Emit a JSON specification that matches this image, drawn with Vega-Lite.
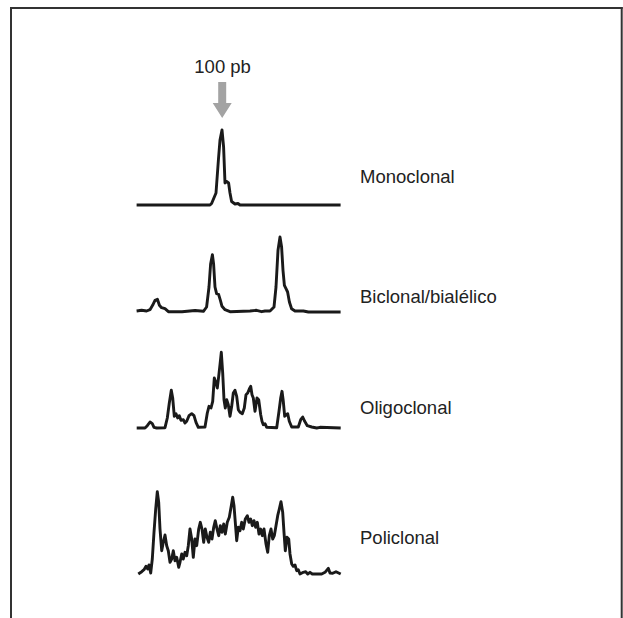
{
  "$schema": "https://vega.github.io/schema/vega-lite/v6.json",
  "width": 623,
  "height": 618,
  "autosize": "none",
  "padding": 0,
  "background": "white",
  "config": {"view": {"stroke": null}, "line": {"color": "#1a1a1a", "strokeWidth": 2.9, "strokeJoin": "round"}},
  "datasets": {
    "traces": [
      {"trace": "Monoclonal", "bp": 57.3, "signal": 0},
      {"trace": "Monoclonal", "bp": 94, "signal": 0},
      {"trace": "Monoclonal", "bp": 94.8, "signal": 1.5},
      {"trace": "Monoclonal", "bp": 97, "signal": 12},
      {"trace": "Monoclonal", "bp": 98.2, "signal": 45},
      {"trace": "Monoclonal", "bp": 99, "signal": 65},
      {"trace": "Monoclonal", "bp": 100, "signal": 75},
      {"trace": "Monoclonal", "bp": 100.8, "signal": 58},
      {"trace": "Monoclonal", "bp": 101.5, "signal": 22},
      {"trace": "Monoclonal", "bp": 102.3, "signal": 23.5},
      {"trace": "Monoclonal", "bp": 103.3, "signal": 22},
      {"trace": "Monoclonal", "bp": 104, "signal": 12},
      {"trace": "Monoclonal", "bp": 104.8, "signal": 3.5},
      {"trace": "Monoclonal", "bp": 106.5, "signal": 1},
      {"trace": "Monoclonal", "bp": 108, "signal": 1.5},
      {"trace": "Monoclonal", "bp": 109, "signal": 0},
      {"trace": "Monoclonal", "bp": 159.3, "signal": 0},

      {"trace": "Biclonal", "bp": 57.3, "signal": 1},
      {"trace": "Biclonal", "bp": 59.8, "signal": 1.7},
      {"trace": "Biclonal", "bp": 62.3, "signal": 1},
      {"trace": "Biclonal", "bp": 64, "signal": 2.3},
      {"trace": "Biclonal", "bp": 65.3, "signal": 6.7},
      {"trace": "Biclonal", "bp": 66.5, "signal": 11.7},
      {"trace": "Biclonal", "bp": 67.7, "signal": 12.7},
      {"trace": "Biclonal", "bp": 68.7, "signal": 6.7},
      {"trace": "Biclonal", "bp": 69.8, "signal": 4.3},
      {"trace": "Biclonal", "bp": 71.5, "signal": 3.3},
      {"trace": "Biclonal", "bp": 73.2, "signal": 0.3},
      {"trace": "Biclonal", "bp": 80, "signal": 0.3},
      {"trace": "Biclonal", "bp": 86.5, "signal": 1.5},
      {"trace": "Biclonal", "bp": 90.7, "signal": 0.7},
      {"trace": "Biclonal", "bp": 92.3, "signal": 5},
      {"trace": "Biclonal", "bp": 93.5, "signal": 25},
      {"trace": "Biclonal", "bp": 94.3, "signal": 48},
      {"trace": "Biclonal", "bp": 95.2, "signal": 57.3},
      {"trace": "Biclonal", "bp": 95.8, "signal": 48},
      {"trace": "Biclonal", "bp": 96.5, "signal": 25},
      {"trace": "Biclonal", "bp": 97.3, "signal": 18.3},
      {"trace": "Biclonal", "bp": 98.3, "signal": 17.7},
      {"trace": "Biclonal", "bp": 99.2, "signal": 11.7},
      {"trace": "Biclonal", "bp": 100, "signal": 5.7},
      {"trace": "Biclonal", "bp": 101.5, "signal": 2.3},
      {"trace": "Biclonal", "bp": 104, "signal": 0.3},
      {"trace": "Biclonal", "bp": 114, "signal": 1},
      {"trace": "Biclonal", "bp": 117.3, "signal": 1.7},
      {"trace": "Biclonal", "bp": 119.8, "signal": 0.3},
      {"trace": "Biclonal", "bp": 121.5, "signal": 1},
      {"trace": "Biclonal", "bp": 124, "signal": 1},
      {"trace": "Biclonal", "bp": 126, "signal": 5},
      {"trace": "Biclonal", "bp": 127, "signal": 25},
      {"trace": "Biclonal", "bp": 128, "signal": 61.7},
      {"trace": "Biclonal", "bp": 129, "signal": 75},
      {"trace": "Biclonal", "bp": 129.8, "signal": 65},
      {"trace": "Biclonal", "bp": 130.5, "signal": 41.7},
      {"trace": "Biclonal", "bp": 131.2, "signal": 26.7},
      {"trace": "Biclonal", "bp": 132, "signal": 23.3},
      {"trace": "Biclonal", "bp": 132.8, "signal": 20},
      {"trace": "Biclonal", "bp": 133.7, "signal": 10},
      {"trace": "Biclonal", "bp": 134.8, "signal": 3.3},
      {"trace": "Biclonal", "bp": 136.5, "signal": 1},
      {"trace": "Biclonal", "bp": 140.7, "signal": 1},
      {"trace": "Biclonal", "bp": 143.2, "signal": 0},
      {"trace": "Biclonal", "bp": 159.3, "signal": 0},

      {"trace": "Oligoclonal", "bp": 57.35, "signal": 0},
      {"trace": "Oligoclonal", "bp": 61.5, "signal": 0},
      {"trace": "Oligoclonal", "bp": 62.65, "signal": 2.3},
      {"trace": "Oligoclonal", "bp": 64, "signal": 6},
      {"trace": "Oligoclonal", "bp": 65.15, "signal": 4.3},
      {"trace": "Oligoclonal", "bp": 66, "signal": 0.7},
      {"trace": "Oligoclonal", "bp": 67.35, "signal": 0},
      {"trace": "Oligoclonal", "bp": 71.5, "signal": 0.3},
      {"trace": "Oligoclonal", "bp": 72.65, "signal": 10},
      {"trace": "Oligoclonal", "bp": 73.65, "signal": 25},
      {"trace": "Oligoclonal", "bp": 74.65, "signal": 37.7},
      {"trace": "Oligoclonal", "bp": 75.35, "signal": 30},
      {"trace": "Oligoclonal", "bp": 76.15, "signal": 11.7},
      {"trace": "Oligoclonal", "bp": 77, "signal": 14.3},
      {"trace": "Oligoclonal", "bp": 77.85, "signal": 10},
      {"trace": "Oligoclonal", "bp": 78.65, "signal": 12.3},
      {"trace": "Oligoclonal", "bp": 79.5, "signal": 7.7},
      {"trace": "Oligoclonal", "bp": 80.65, "signal": 8.3},
      {"trace": "Oligoclonal", "bp": 81.5, "signal": 5},
      {"trace": "Oligoclonal", "bp": 82.35, "signal": 6.7},
      {"trace": "Oligoclonal", "bp": 83.5, "signal": 12.3},
      {"trace": "Oligoclonal", "bp": 84.85, "signal": 14.3},
      {"trace": "Oligoclonal", "bp": 86, "signal": 12.3},
      {"trace": "Oligoclonal", "bp": 87, "signal": 5.7},
      {"trace": "Oligoclonal", "bp": 88.15, "signal": 0.7},
      {"trace": "Oligoclonal", "bp": 91.5, "signal": 1},
      {"trace": "Oligoclonal", "bp": 92.65, "signal": 15},
      {"trace": "Oligoclonal", "bp": 93.5, "signal": 21.7},
      {"trace": "Oligoclonal", "bp": 94.5, "signal": 20},
      {"trace": "Oligoclonal", "bp": 95.35, "signal": 26.7},
      {"trace": "Oligoclonal", "bp": 96.15, "signal": 50},
      {"trace": "Oligoclonal", "bp": 97, "signal": 45},
      {"trace": "Oligoclonal", "bp": 97.65, "signal": 40},
      {"trace": "Oligoclonal", "bp": 98.35, "signal": 51.7},
      {"trace": "Oligoclonal", "bp": 99, "signal": 63.3},
      {"trace": "Oligoclonal", "bp": 99.65, "signal": 75.7},
      {"trace": "Oligoclonal", "bp": 100.35, "signal": 55},
      {"trace": "Oligoclonal", "bp": 101, "signal": 28.3},
      {"trace": "Oligoclonal", "bp": 101.65, "signal": 20},
      {"trace": "Oligoclonal", "bp": 102.35, "signal": 28.3},
      {"trace": "Oligoclonal", "bp": 103.15, "signal": 23.3},
      {"trace": "Oligoclonal", "bp": 104, "signal": 11.7},
      {"trace": "Oligoclonal", "bp": 104.85, "signal": 21.7},
      {"trace": "Oligoclonal", "bp": 105.65, "signal": 35},
      {"trace": "Oligoclonal", "bp": 106.5, "signal": 37.7},
      {"trace": "Oligoclonal", "bp": 107.35, "signal": 31.7},
      {"trace": "Oligoclonal", "bp": 108.15, "signal": 18.3},
      {"trace": "Oligoclonal", "bp": 109, "signal": 15.7},
      {"trace": "Oligoclonal", "bp": 110.15, "signal": 14.3},
      {"trace": "Oligoclonal", "bp": 111.15, "signal": 20},
      {"trace": "Oligoclonal", "bp": 112, "signal": 33.3},
      {"trace": "Oligoclonal", "bp": 112.85, "signal": 35},
      {"trace": "Oligoclonal", "bp": 113.65, "signal": 39},
      {"trace": "Oligoclonal", "bp": 114.35, "signal": 41.7},
      {"trace": "Oligoclonal", "bp": 115, "signal": 33.3},
      {"trace": "Oligoclonal", "bp": 115.65, "signal": 30},
      {"trace": "Oligoclonal", "bp": 116.5, "signal": 16.7},
      {"trace": "Oligoclonal", "bp": 117.5, "signal": 30},
      {"trace": "Oligoclonal", "bp": 118.35, "signal": 28.3},
      {"trace": "Oligoclonal", "bp": 119.35, "signal": 13.3},
      {"trace": "Oligoclonal", "bp": 120, "signal": 6.7},
      {"trace": "Oligoclonal", "bp": 120.65, "signal": 3.3},
      {"trace": "Oligoclonal", "bp": 121.5, "signal": 4.3},
      {"trace": "Oligoclonal", "bp": 122.35, "signal": 0.7},
      {"trace": "Oligoclonal", "bp": 127.35, "signal": 0.3},
      {"trace": "Oligoclonal", "bp": 128.5, "signal": 16.7},
      {"trace": "Oligoclonal", "bp": 129.35, "signal": 30},
      {"trace": "Oligoclonal", "bp": 130, "signal": 36.7},
      {"trace": "Oligoclonal", "bp": 130.65, "signal": 26.7},
      {"trace": "Oligoclonal", "bp": 131.35, "signal": 11.7},
      {"trace": "Oligoclonal", "bp": 132.15, "signal": 13.3},
      {"trace": "Oligoclonal", "bp": 132.85, "signal": 14.3},
      {"trace": "Oligoclonal", "bp": 133.65, "signal": 6.7},
      {"trace": "Oligoclonal", "bp": 134.85, "signal": 1},
      {"trace": "Oligoclonal", "bp": 138.15, "signal": 1},
      {"trace": "Oligoclonal", "bp": 139.35, "signal": 8.3},
      {"trace": "Oligoclonal", "bp": 140.35, "signal": 11},
      {"trace": "Oligoclonal", "bp": 141.35, "signal": 6.7},
      {"trace": "Oligoclonal", "bp": 142.65, "signal": 2.3},
      {"trace": "Oligoclonal", "bp": 144.85, "signal": 1},
      {"trace": "Oligoclonal", "bp": 147.35, "signal": 0},
      {"trace": "Oligoclonal", "bp": 149, "signal": 0.7},
      {"trace": "Oligoclonal", "bp": 159.35, "signal": 0},

      {"trace": "Policlonal", "bp": 58.15, "signal": 0},
      {"trace": "Policlonal", "bp": 59.85, "signal": 2.3},
      {"trace": "Policlonal", "bp": 61, "signal": 4.3},
      {"trace": "Policlonal", "bp": 62, "signal": 7.7},
      {"trace": "Policlonal", "bp": 62.85, "signal": 5},
      {"trace": "Policlonal", "bp": 63.5, "signal": 9},
      {"trace": "Policlonal", "bp": 64.35, "signal": 1},
      {"trace": "Policlonal", "bp": 65.15, "signal": 15},
      {"trace": "Policlonal", "bp": 66, "signal": 41.7},
      {"trace": "Policlonal", "bp": 66.85, "signal": 65},
      {"trace": "Policlonal", "bp": 67.65, "signal": 82.3},
      {"trace": "Policlonal", "bp": 68.35, "signal": 71.7},
      {"trace": "Policlonal", "bp": 69, "signal": 45},
      {"trace": "Policlonal", "bp": 69.85, "signal": 23.3},
      {"trace": "Policlonal", "bp": 70.65, "signal": 31.7},
      {"trace": "Policlonal", "bp": 71.5, "signal": 39},
      {"trace": "Policlonal", "bp": 72.35, "signal": 28.3},
      {"trace": "Policlonal", "bp": 73.15, "signal": 23.3},
      {"trace": "Policlonal", "bp": 74, "signal": 11.7},
      {"trace": "Policlonal", "bp": 74.85, "signal": 15},
      {"trace": "Policlonal", "bp": 75.65, "signal": 23.3},
      {"trace": "Policlonal", "bp": 76.5, "signal": 13.3},
      {"trace": "Policlonal", "bp": 77.35, "signal": 16.7},
      {"trace": "Policlonal", "bp": 78.35, "signal": 6.7},
      {"trace": "Policlonal", "bp": 79, "signal": 11.7},
      {"trace": "Policlonal", "bp": 79.85, "signal": 20},
      {"trace": "Policlonal", "bp": 80.65, "signal": 15},
      {"trace": "Policlonal", "bp": 81.5, "signal": 21.7},
      {"trace": "Policlonal", "bp": 82.35, "signal": 18.3},
      {"trace": "Policlonal", "bp": 83.15, "signal": 28.3},
      {"trace": "Policlonal", "bp": 84, "signal": 45},
      {"trace": "Policlonal", "bp": 84.85, "signal": 35},
      {"trace": "Policlonal", "bp": 85.65, "signal": 16.7},
      {"trace": "Policlonal", "bp": 86.5, "signal": 35},
      {"trace": "Policlonal", "bp": 87.35, "signal": 28.3},
      {"trace": "Policlonal", "bp": 88.35, "signal": 45},
      {"trace": "Policlonal", "bp": 89.15, "signal": 51.7},
      {"trace": "Policlonal", "bp": 90, "signal": 45},
      {"trace": "Policlonal", "bp": 90.85, "signal": 31.7},
      {"trace": "Policlonal", "bp": 91.65, "signal": 45},
      {"trace": "Policlonal", "bp": 92.5, "signal": 36.7},
      {"trace": "Policlonal", "bp": 93.35, "signal": 31.7},
      {"trace": "Policlonal", "bp": 94.15, "signal": 41.7},
      {"trace": "Policlonal", "bp": 95, "signal": 35},
      {"trace": "Policlonal", "bp": 95.85, "signal": 46.7},
      {"trace": "Policlonal", "bp": 96.65, "signal": 53.3},
      {"trace": "Policlonal", "bp": 97.5, "signal": 45},
      {"trace": "Policlonal", "bp": 98.35, "signal": 38.3},
      {"trace": "Policlonal", "bp": 99.15, "signal": 48.3},
      {"trace": "Policlonal", "bp": 100, "signal": 41.7},
      {"trace": "Policlonal", "bp": 100.85, "signal": 50},
      {"trace": "Policlonal", "bp": 101.65, "signal": 40},
      {"trace": "Policlonal", "bp": 102.65, "signal": 51.7},
      {"trace": "Policlonal", "bp": 103.65, "signal": 56.7},
      {"trace": "Policlonal", "bp": 104.65, "signal": 68.3},
      {"trace": "Policlonal", "bp": 105.35, "signal": 76.7},
      {"trace": "Policlonal", "bp": 106, "signal": 68.3},
      {"trace": "Policlonal", "bp": 106.65, "signal": 51.7},
      {"trace": "Policlonal", "bp": 107.35, "signal": 33.3},
      {"trace": "Policlonal", "bp": 108.15, "signal": 46.7},
      {"trace": "Policlonal", "bp": 109, "signal": 43.3},
      {"trace": "Policlonal", "bp": 109.85, "signal": 51.7},
      {"trace": "Policlonal", "bp": 110.65, "signal": 45},
      {"trace": "Policlonal", "bp": 111.65, "signal": 55},
      {"trace": "Policlonal", "bp": 112.65, "signal": 58.3},
      {"trace": "Policlonal", "bp": 113.5, "signal": 51.7},
      {"trace": "Policlonal", "bp": 114.35, "signal": 55},
      {"trace": "Policlonal", "bp": 115.15, "signal": 48.3},
      {"trace": "Policlonal", "bp": 116, "signal": 53.3},
      {"trace": "Policlonal", "bp": 116.85, "signal": 46.7},
      {"trace": "Policlonal", "bp": 117.65, "signal": 51.7},
      {"trace": "Policlonal", "bp": 118.5, "signal": 40},
      {"trace": "Policlonal", "bp": 119.35, "signal": 45},
      {"trace": "Policlonal", "bp": 120.15, "signal": 38.3},
      {"trace": "Policlonal", "bp": 121, "signal": 45},
      {"trace": "Policlonal", "bp": 122, "signal": 30},
      {"trace": "Policlonal", "bp": 122.85, "signal": 21.7},
      {"trace": "Policlonal", "bp": 123.65, "signal": 38.3},
      {"trace": "Policlonal", "bp": 124.5, "signal": 45},
      {"trace": "Policlonal", "bp": 125.35, "signal": 35},
      {"trace": "Policlonal", "bp": 126.15, "signal": 38.3},
      {"trace": "Policlonal", "bp": 127, "signal": 48.3},
      {"trace": "Policlonal", "bp": 127.85, "signal": 58.3},
      {"trace": "Policlonal", "bp": 128.65, "signal": 65},
      {"trace": "Policlonal", "bp": 129.5, "signal": 72.3},
      {"trace": "Policlonal", "bp": 130.35, "signal": 61.7},
      {"trace": "Policlonal", "bp": 131, "signal": 41.7},
      {"trace": "Policlonal", "bp": 131.65, "signal": 23.3},
      {"trace": "Policlonal", "bp": 132.5, "signal": 36.7},
      {"trace": "Policlonal", "bp": 133.35, "signal": 35},
      {"trace": "Policlonal", "bp": 134, "signal": 20},
      {"trace": "Policlonal", "bp": 134.85, "signal": 10},
      {"trace": "Policlonal", "bp": 135.65, "signal": 7.7},
      {"trace": "Policlonal", "bp": 136.5, "signal": 9},
      {"trace": "Policlonal", "bp": 137.35, "signal": 3.3},
      {"trace": "Policlonal", "bp": 138.15, "signal": 4.3},
      {"trace": "Policlonal", "bp": 139, "signal": 0},
      {"trace": "Policlonal", "bp": 140.65, "signal": 1.7},
      {"trace": "Policlonal", "bp": 141.85, "signal": 2.3},
      {"trace": "Policlonal", "bp": 142.85, "signal": 0},
      {"trace": "Policlonal", "bp": 144, "signal": 1.7},
      {"trace": "Policlonal", "bp": 145.15, "signal": 0},
      {"trace": "Policlonal", "bp": 149.85, "signal": 0},
      {"trace": "Policlonal", "bp": 151.5, "signal": 1.7},
      {"trace": "Policlonal", "bp": 153.15, "signal": 5.7},
      {"trace": "Policlonal", "bp": 154, "signal": 1},
      {"trace": "Policlonal", "bp": 155.35, "signal": 0.7},
      {"trace": "Policlonal", "bp": 157, "signal": 2.3},
      {"trace": "Policlonal", "bp": 159.35, "signal": 0}
    ]
  },
  "layer": [
    {
      "layer": [
        {
          "data": {"name": "traces"},
          "transform": [{"filter": "datum.trace === 'Monoclonal'"}],
          "mark": {"type": "line"},
          "encoding": {
            "x": {"field": "bp", "type": "quantitative", "scale": {"domain": [-11, 300.5], "nice": false, "zero": false}, "axis": null},
            "y": {"field": "signal", "type": "quantitative", "scale": {"domain": [-413, 205], "nice": false, "zero": false}, "axis": null}
          }
        },
        {
          "data": {"values": [{"label": "Monoclonal"}]},
          "mark": {"type": "text", "align": "left", "baseline": "alphabetic", "font": "Liberation Sans", "fontSize": 18.5, "color": "#222222"},
          "encoding": {
            "x": {"datum": 169, "type": "quantitative"},
            "y": {"datum": 22.5, "type": "quantitative"},
            "text": {"field": "label"}
          }
        },
        {
          "data": {"values": [{"label": "100 pb"}]},
          "mark": {"type": "text", "align": "center", "baseline": "alphabetic", "font": "Liberation Sans", "fontSize": 18.5, "color": "#222222"},
          "encoding": {
            "x": {"datum": 100.3, "type": "quantitative"},
            "y": {"datum": 132, "type": "quantitative"},
            "text": {"field": "label"}
          }
        },
        {
          "data": {"values": [{"label": "arrow"}]},
          "mark": {"type": "point", "shape": "M-0.222,-1L0.222,-1L0.222,0.167L0.528,0.167L0,1L-0.528,0.167L-0.222,0.167Z", "size": 1296, "filled": true, "color": "#a3a3a3", "opacity": 1, "strokeWidth": 0},
          "encoding": {
            "x": {"datum": 100.1, "type": "quantitative"},
            "y": {"datum": 105, "type": "quantitative"}
          }
        },
        {
          "data": {"values": [{"label": "left"}]},
          "mark": {"type": "rule", "color": "#333333", "strokeWidth": 2, "strokeCap": "square"},
          "encoding": {
            "x": {"datum": -5.5, "type": "quantitative"},
            "y": {"datum": 197, "type": "quantitative"},
            "y2": {"datum": -420}
          }
        },
        {
          "data": {"values": [{"label": "right"}]},
          "mark": {"type": "rule", "color": "#333333", "strokeWidth": 2, "strokeCap": "square"},
          "encoding": {
            "x": {"datum": 299.85, "type": "quantitative"},
            "y": {"datum": 197, "type": "quantitative"},
            "y2": {"datum": -420}
          }
        },
        {
          "data": {"values": [{"label": "top"}]},
          "mark": {"type": "rule", "color": "#333333", "strokeWidth": 2, "strokeCap": "square"},
          "encoding": {
            "x": {"datum": -5.5, "type": "quantitative"},
            "x2": {"datum": 299.85},
            "y": {"datum": 197, "type": "quantitative"}
          }
        }
      ]
    },
    {
      "layer": [
        {
          "data": {"name": "traces"},
          "transform": [{"filter": "datum.trace === 'Biclonal'"}],
          "mark": {"type": "line"},
          "encoding": {
            "x": {"field": "bp", "type": "quantitative", "scale": {"domain": [-11, 300.5], "nice": false, "zero": false}, "axis": null},
            "y": {"field": "signal", "type": "quantitative", "scale": {"domain": [-306, 312], "nice": false, "zero": false}, "axis": null}
          }
        },
        {
          "data": {"values": [{"label": "Biclonal/bialélico"}]},
          "mark": {"type": "text", "align": "left", "baseline": "alphabetic", "font": "Liberation Sans", "fontSize": 18.5, "color": "#222222"},
          "encoding": {
            "x": {"datum": 169, "type": "quantitative"},
            "y": {"datum": 9.3, "type": "quantitative"},
            "text": {"field": "label"}
          }
        }
      ]
    },
    {
      "layer": [
        {
          "data": {"name": "traces"},
          "transform": [{"filter": "datum.trace === 'Oligoclonal'"}],
          "mark": {"type": "line"},
          "encoding": {
            "x": {"field": "bp", "type": "quantitative", "scale": {"domain": [-11, 300.5], "nice": false, "zero": false}, "axis": null},
            "y": {"field": "signal", "type": "quantitative", "scale": {"domain": [-190, 428], "nice": false, "zero": false}, "axis": null}
          }
        },
        {
          "data": {"values": [{"label": "Oligoclonal"}]},
          "mark": {"type": "text", "align": "left", "baseline": "alphabetic", "font": "Liberation Sans", "fontSize": 18.5, "color": "#222222"},
          "encoding": {
            "x": {"datum": 169, "type": "quantitative"},
            "y": {"datum": 14.5, "type": "quantitative"},
            "text": {"field": "label"}
          }
        }
      ]
    },
    {
      "layer": [
        {
          "data": {"name": "traces"},
          "transform": [{"filter": "datum.trace === 'Policlonal'"}],
          "mark": {"type": "line"},
          "encoding": {
            "x": {"field": "bp", "type": "quantitative", "scale": {"domain": [-11, 300.5], "nice": false, "zero": false}, "axis": null},
            "y": {"field": "signal", "type": "quantitative", "scale": {"domain": [-44, 574], "nice": false, "zero": false}, "axis": null}
          }
        },
        {
          "data": {"values": [{"label": "Policlonal"}]},
          "mark": {"type": "text", "align": "left", "baseline": "alphabetic", "font": "Liberation Sans", "fontSize": 18.5, "color": "#222222"},
          "encoding": {
            "x": {"datum": 169, "type": "quantitative"},
            "y": {"datum": 30.5, "type": "quantitative"},
            "text": {"field": "label"}
          }
        }
      ]
    }
  ],
  "resolve": {"scale": {"y": "independent"}}
}
